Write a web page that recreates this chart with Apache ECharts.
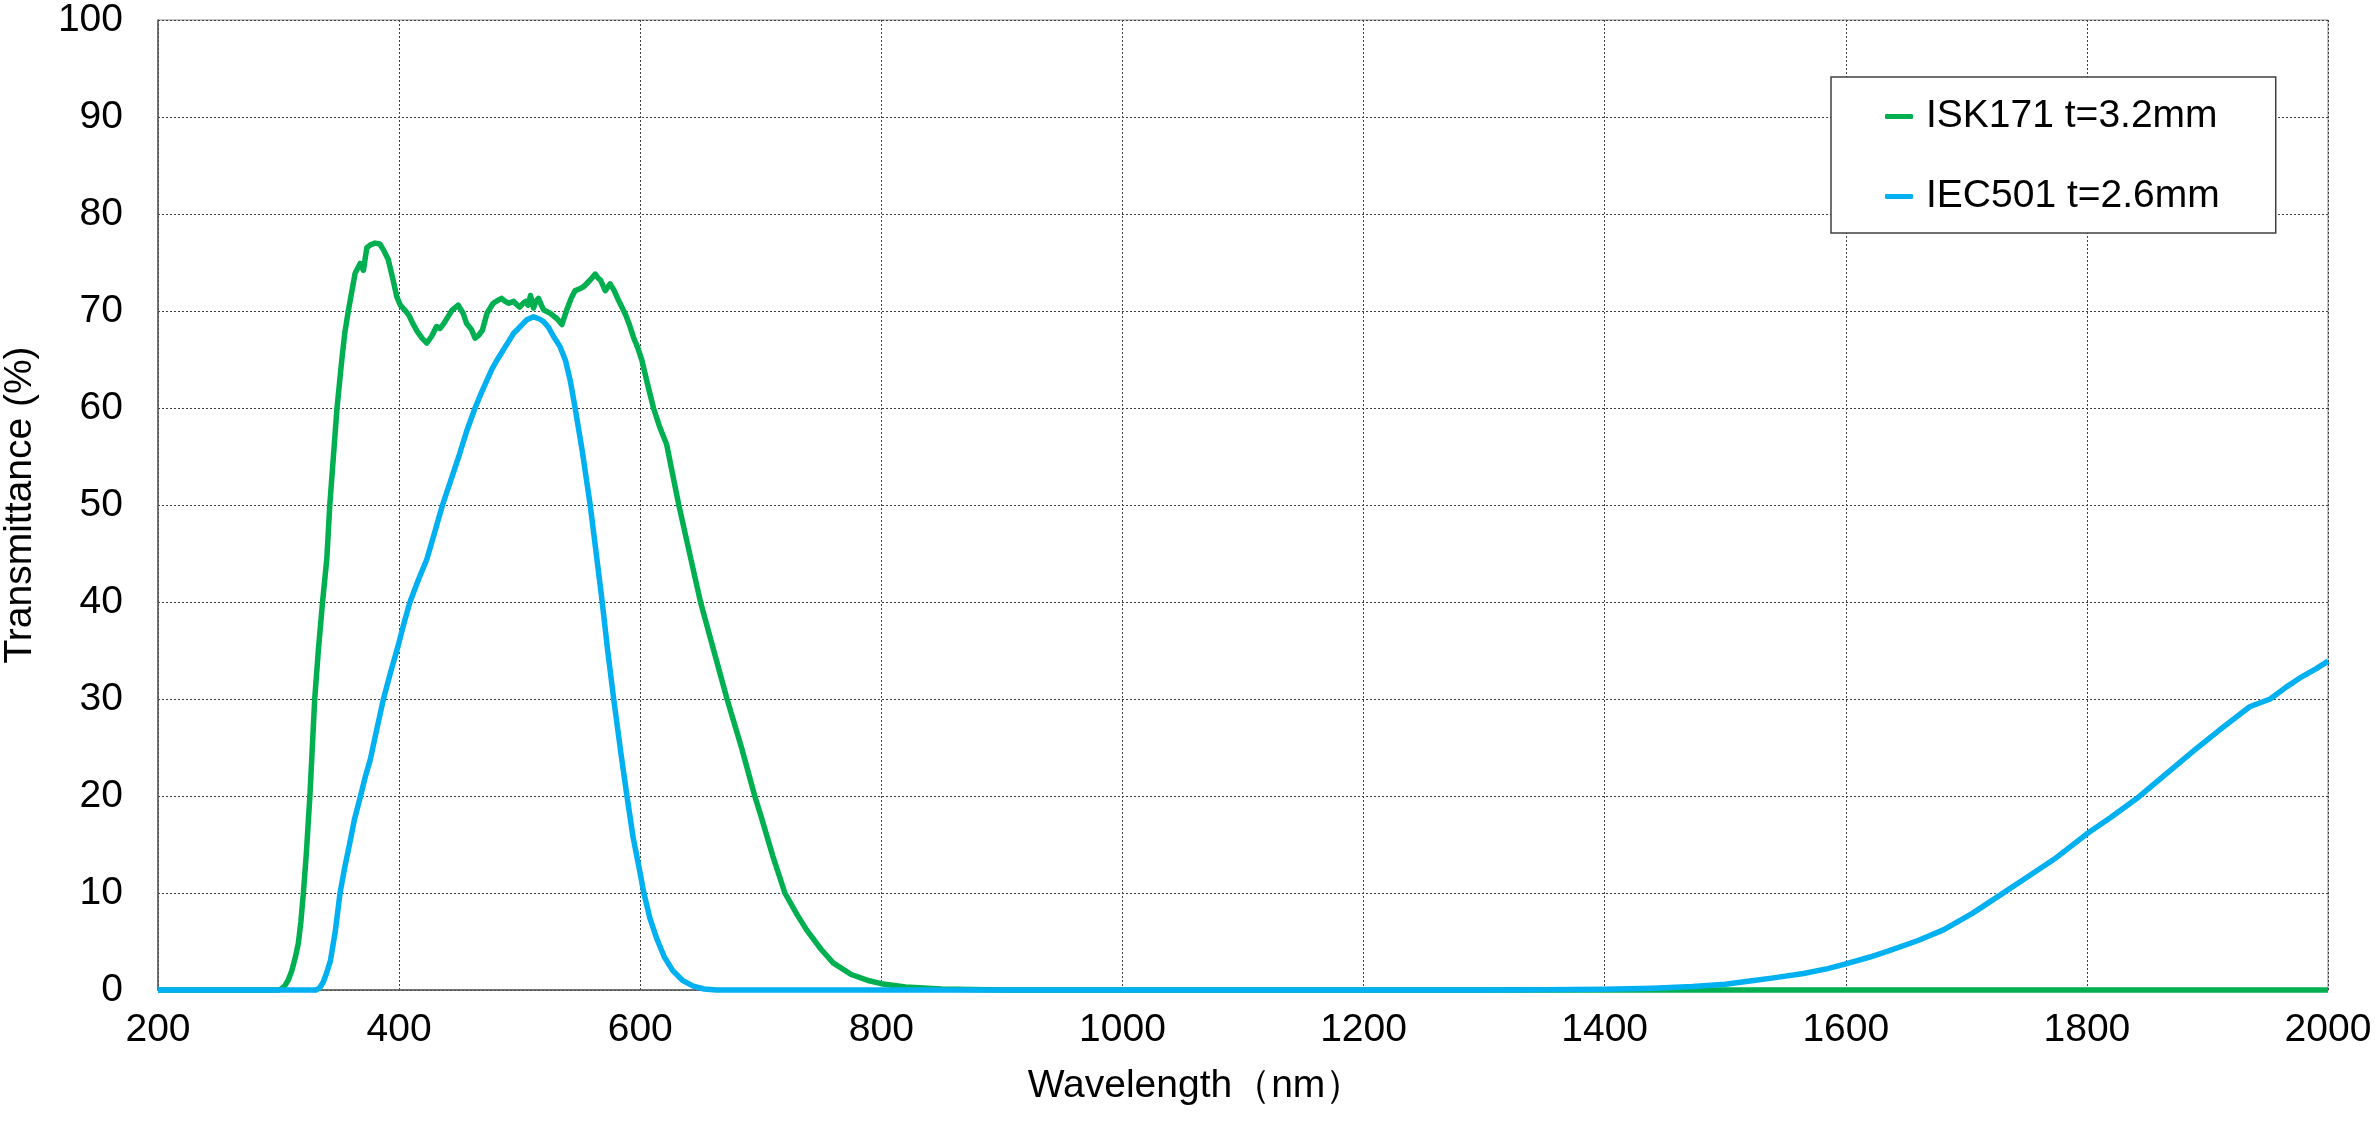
<!DOCTYPE html>
<html>
<head>
<meta charset="utf-8">
<script src="https://cdn.jsdelivr.net/npm/echarts@6/dist/echarts.min.js"></script>
<style>
html,body{margin:0;padding:0;background:#fff;}
#chart{width:2375px;height:1123px;}
</style>
</head>
<body>
<div id="chart"></div>
<script>
// X ticks and Y ticks
const xTicks = [200, 400, 600, 800, 1000, 1200, 1400, 1600, 1800, 2000];
const yTicks = [0, 10, 20, 30, 40, 50, 60, 70, 80, 90, 100];

// ISK171 t=3.2mm
const iskWavelength = [200, 300, 302, 305, 308, 311, 314, 316.4, 318.5, 320.6, 323, 326, 328, 330, 333, 336.5, 340, 342.5, 345.5, 348.5, 352.5, 355, 358, 363.5, 367.7, 370.4, 373.2, 376, 380, 384, 387, 391, 395, 398, 401, 404, 408, 411, 415, 419, 423, 427, 431, 434, 437, 441, 444, 449, 453, 456, 460, 463, 466, 469, 473, 478, 482, 485, 488, 491, 495, 498, 500, 503, 505, 507, 509, 511.5, 513.5, 515.6, 518, 520, 525, 528, 531, 535, 539, 543, 546, 550, 553, 558.5, 562.7, 565, 567, 571, 575, 578, 582, 587.6, 591, 594.4, 598, 601.4, 606, 611, 616, 622, 627, 632, 641, 650, 661, 672, 684, 695, 700, 710, 720, 730, 738, 750, 760, 775, 790, 800, 820, 850, 900, 2000];
const iskT = [0, 0, 0.1, 0.4, 1.0, 2, 3.4, 4.8, 7, 10, 14, 20, 25, 30, 35, 40, 44.4, 50, 55, 60, 65, 67.8, 70.1, 73.9, 74.9, 74.2, 76.5, 76.8, 77, 76.9, 76.3, 75.3, 73.2, 71.5, 70.6, 70.2, 69.6, 68.8, 67.9, 67.2, 66.7, 67.4, 68.4, 68.2, 68.7, 69.5, 70.1, 70.6, 69.8, 68.7, 68.1, 67.2, 67.5, 68, 69.8, 70.8, 71.1, 71.3, 71.0, 70.8, 71, 70.6, 70.4, 70.8, 71, 70.6, 71.6, 70.3, 71.0, 71.3, 70.6, 70.1, 69.8, 69.5, 69.2, 68.6, 70.1, 71.4, 72.1, 72.3, 72.5, 73.2, 73.8, 73.4, 73.2, 72.1, 72.8, 72.2, 71.1, 69.7, 68.6, 67.3, 66.2, 64.9, 62.5, 60, 58.1, 56.2, 53.1, 50, 45, 40, 35, 30, 25, 20, 18, 13.8, 10, 7.8, 6.2, 4.2, 2.8, 1.6, 0.95, 0.65, 0.3, 0.1, 0, 0];

// IEC501 t=2.6mm
const iecWavelength = [200, 331, 334, 337, 340, 343, 347, 351, 355, 359, 363, 368, 372, 376, 381, 387, 393, 399, 404, 409, 416, 423, 430, 436, 443, 449.5, 456, 463, 468, 473, 477, 481, 485, 488, 492, 495, 499, 502, 506, 511.5, 516, 520, 524, 528, 533.6, 538, 542, 546, 552, 558.5, 563, 568, 573, 578, 584, 589, 594, 600, 603, 608, 614, 620, 627, 635, 644, 653, 663, 700, 1300, 1350, 1400, 1440, 1473, 1500, 1519, 1540, 1565, 1585, 1600, 1620, 1635, 1660, 1681, 1705, 1727, 1750, 1773, 1800, 1820, 1843, 1865, 1889, 1912, 1935, 1952, 1965, 1977, 1990, 2000];
const iecT = [0, 0, 0.2, 0.8, 1.8, 3, 6, 10, 12.7, 15.1, 17.6, 20, 22, 23.7, 26.6, 30, 32.8, 35.4, 37.8, 40, 42.3, 44.4, 47.4, 50, 52.6, 55, 57.6, 60, 61.5, 62.9, 64.0, 64.9, 65.7, 66.3, 67.1, 67.7, 68.2, 68.6, 69.1, 69.4, 69.2, 68.9, 68.3, 67.4, 66.3, 64.9, 62.8, 60, 55.5, 50, 45.5, 40.5, 35, 30, 24.4, 20, 15.8, 12, 10, 7.4, 5.2, 3.4, 2, 1.0, 0.4, 0.1, 0, 0, 0, 0.02, 0.07, 0.18, 0.35, 0.6, 0.9, 1.25, 1.7, 2.2, 2.7, 3.4, 4.0, 5.1, 6.2, 7.9, 9.7, 11.6, 13.5, 16.1, 17.8, 19.9, 22.2, 24.7, 27.0, 29.2, 30, 31.2, 32.2, 33.1, 33.9];

const seriesNames = ['ISK171 t=3.2mm', 'IEC501 t=2.6mm'];
const seriesColors = ['#00B050', '#00B0F0'];

function pairs(xs, ys) { return xs.map((x, i) => [x, ys[i]]); }

const FONT = '"Liberation Sans", Arial, sans-serif';
const FS = 39;
const chart = echarts.init(document.getElementById('chart'));
chart.setOption({
  animation: false,
  backgroundColor: '#ffffff',
  grid: {
    left: 158, right: 47, top: 20, bottom: 133,
    containLabel: false, outerBoundsMode: 'none',
    show: true, borderColor: '#8c8c8c', borderWidth: 1
  },
  legend: {
    orient: 'vertical',
    left: 1831, top: 77,
    padding: [20, 56, 17, 54],
    borderColor: '#404040', borderWidth: 1.5,
    backgroundColor: '#ffffff',
    itemGap: 41,
    itemWidth: 28, itemHeight: 5,
    icon: 'roundRect',
    textStyle: { fontFamily: FONT, fontSize: FS, color: '#000', padding: [0, 0, 0, 8] },
    data: seriesNames
  },
  xAxis: {
    type: 'value',
    min: xTicks[0], max: xTicks[xTicks.length - 1], interval: 200,
    name: 'Wavelength（nm）',
    nameLocation: 'middle', nameGap: 77,
    nameTextStyle: { fontFamily: FONT, fontSize: FS, color: '#000', padding: [0, 94, 0, 0] },
    axisLine: { show: true, lineStyle: { color: '#595959', width: 1.5 } },
    axisTick: { show: false },
    axisLabel: { fontFamily: FONT, fontSize: FS, color: '#000', margin: 21, formatter: v => String(v) },
    splitLine: { show: true, lineStyle: { color: '#404040', type: [2, 2], width: 1 } }
  },
  yAxis: {
    type: 'value',
    min: yTicks[0], max: yTicks[yTicks.length - 1], interval: 10,
    name: 'Transmittance (%)',
    nameLocation: 'middle', nameGap: 118,
    nameTextStyle: { fontFamily: FONT, fontSize: FS, color: '#000' },
    axisLine: { show: true, lineStyle: { color: '#595959', width: 1.5 } },
    axisTick: { show: false },
    axisLabel: { fontFamily: FONT, fontSize: FS, color: '#000', margin: 35, formatter: v => String(v) },
    splitLine: { show: true, lineStyle: { color: '#404040', type: [2, 2], width: 1 } }
  },
  series: [
    {
      name: seriesNames[0], type: 'line', data: pairs(iskWavelength, iskT),
      showSymbol: false, symbol: 'none', clip: false,
      lineStyle: { color: seriesColors[0], width: 5.5, join: 'round' },
      itemStyle: { color: seriesColors[0] }
    },
    {
      name: seriesNames[1], type: 'line', data: pairs(iecWavelength, iecT),
      showSymbol: false, symbol: 'none', clip: false,
      lineStyle: { color: seriesColors[1], width: 5.5, join: 'round' },
      itemStyle: { color: seriesColors[1] }
    }
  ]
});
</script>
</body>
</html>
